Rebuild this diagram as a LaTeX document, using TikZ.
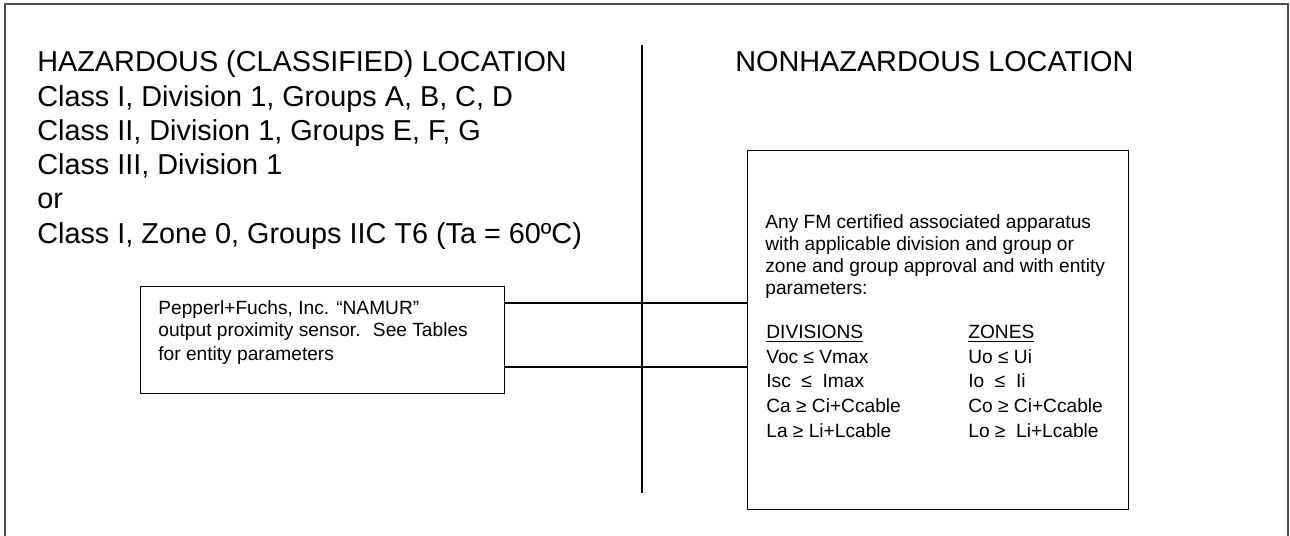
\documentclass[tikz,border=0pt]{standalone}
\usepackage{fontspec}
\setmainfont{Liberation Sans}
\usepackage{tikz}
\usetikzlibrary{positioning}

\begin{document}
\begin{tikzpicture}[x=0.02cm, y=-0.02cm,
        box/.style={rectangle, draw=black, line width=0.8pt, inner sep=0pt},
        hdr/.style={anchor=base west, inner sep=0pt, font=\fontsize{16.4}{19.6}\selectfont},
        txt/.style={anchor=base west, inner sep=0pt, font=\fontsize{10.9}{13}\selectfont}
    ]
        \useasboundingbox (0,0) rectangle (1290,536);
        % outer frame
        \draw[line width=1.1pt, black!70] (5,536) |- (1288,4) -- (1288,536);

        % ================= HAZARDOUS SIDE =================
        \node[hdr] (haz) at (37,72) {HAZARDOUS (CLASSIFIED) LOCATION};
        \node[hdr] (cl1) at (37,107) {Class I, Division 1, Groups A, B, C, D};
        \node[hdr] (cl2) at (37,141) {Class II, Division 1, Groups E, F, G};
        \node[hdr] (cl3) at (37,175) {Class III, Division 1};
        \node[hdr] (or) at (37,209) {or};
        \node[hdr] (zone) at (37,244) {Class I, Zone 0, Groups IIC T6 (Ta = 60ºC)};

        \node[box, anchor=north west, minimum width=7.28cm, minimum height=2.14cm] (sensor) at (140,286) {};
        \node[txt] (sen1) at (158,315) {Pepperl+Fuchs, Inc. “NAMUR”};
        \node[txt] (sen2) at (158,337) {output proximity sensor.~ See Tables};
        \node[txt] (sen3) at (158,360) {for entity parameters};

        % ================= NONHAZARDOUS SIDE =================
        \node[hdr] (nonhaz) at (735,72) {NONHAZARDOUS LOCATION};

        \node[box, anchor=north west, minimum width=7.62cm, minimum height=7.18cm] (apparatus) at (747,150) {};
        \node[txt] (app1) at (765,229) {Any FM certified associated apparatus};
        \node[txt] (app2) at (765,251) {with applicable division and group or};
        \node[txt] (app3) at (765,273) {zone and group approval and with entity};
        \node[txt] (app4) at (765,295) {parameters:};

        \node[txt] (div) at (766,339) {\underline{DIVISIONS}};
        \node[txt] (div1) at (766,364) {Voc ≤ Vmax};
        \node[txt] (div2) at (766,388) {Isc~ ≤~ Imax};
        \node[txt] (div3) at (766,412) {Ca ≥ Ci+Ccable};
        \node[txt] (div4) at (766,437) {La ≥ Li+Lcable};

        \node[txt] (zon) at (968,339) {\underline{ZONES}};
        \node[txt] (zon1) at (968,364) {Uo ≤ Ui};
        \node[txt] (zon2) at (968,388) {Io~ ≤~ Ii};
        \node[txt] (zon3) at (968,412) {Co ≥ Ci+Ccable};
        \node[txt] (zon4) at (968,437) {Lo ≥~ Li+Lcable};

        % field wiring
        \draw[line width=0.8pt] (sensor.east |- 0,303) -- (apparatus.west |- 0,303);
        \draw[line width=0.8pt] (sensor.east |- 0,367) -- (apparatus.west |- 0,367);

        % boundary between the two locations
        \coordinate (divtop) at (642,45);
        \coordinate (divbot) at (642,493);
        \draw[line width=0.8pt] (divtop) -- (divbot);
    \end{tikzpicture}
\end{document}
